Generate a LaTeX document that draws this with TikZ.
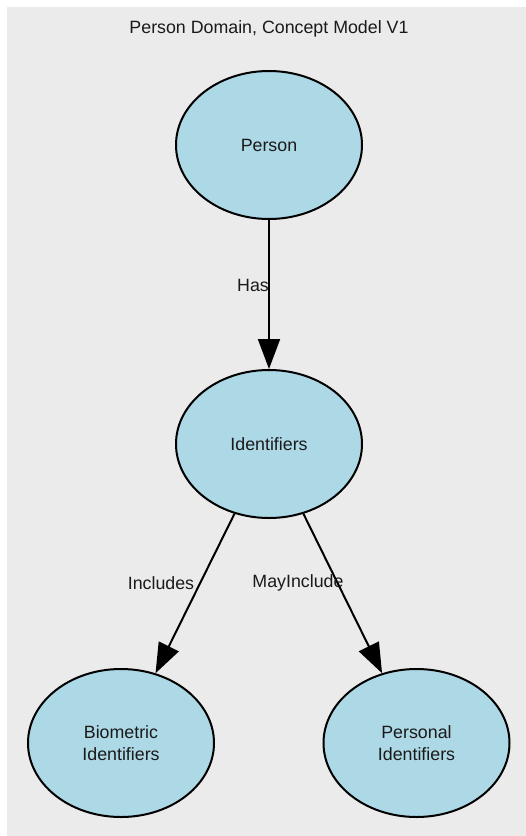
\documentclass[tikz,border=0pt]{standalone}
\usepackage{fontspec}
\setmainfont{Liberation Sans}
\usetikzlibrary{shapes.geometric,arrows.meta}
\definecolor{bggray}{HTML}{EBEBEB}
\definecolor{nodeblue}{HTML}{ADD8E6}
\definecolor{txt}{HTML}{1A1A1A}
\tikzset{
  concept/.style={ellipse, draw=black, line width=2pt, fill=nodeblue,
    minimum width=186pt, minimum height=148pt, inner sep=0pt,
    align=center, text=txt, font=\fontsize{17.8pt}{21.5pt}\selectfont},
  rel/.style={draw=black, line width=2pt, -{Triangle[length=30pt,width=22pt]}},
  lbl/.style={text=txt, font=\fontsize{17.8pt}{21.5pt}\selectfont, inner sep=0pt}
}
\begin{document}
\begin{tikzpicture}[x=1pt,y=-1pt]
\useasboundingbox (0,0) rectangle (526,836);
\fill[bggray] (7,7) rectangle (525.5,835.5);
\node[lbl] (title) at (269,29) {Person Domain, Concept Model V1};
\node[concept] (person) at (269,145) {Person};
\node[concept] (ident) at (269,444) {Identifiers};
\node[concept] (bio) at (121,743) {Biometric\\Identifiers};
\node[concept] (pers) at (416.5,743) {Personal\\Identifiers};
\draw[rel] (person) -- (ident);
\draw[rel] (ident) -- (bio);
\draw[rel] (ident) -- (pers);
\node[lbl] (has) at (253,285) {Has};
\node[lbl] (inc) at (161,583) {Includes};
\node[lbl] (may) at (298,583) {MayInclude};
\end{tikzpicture}
\end{document}
